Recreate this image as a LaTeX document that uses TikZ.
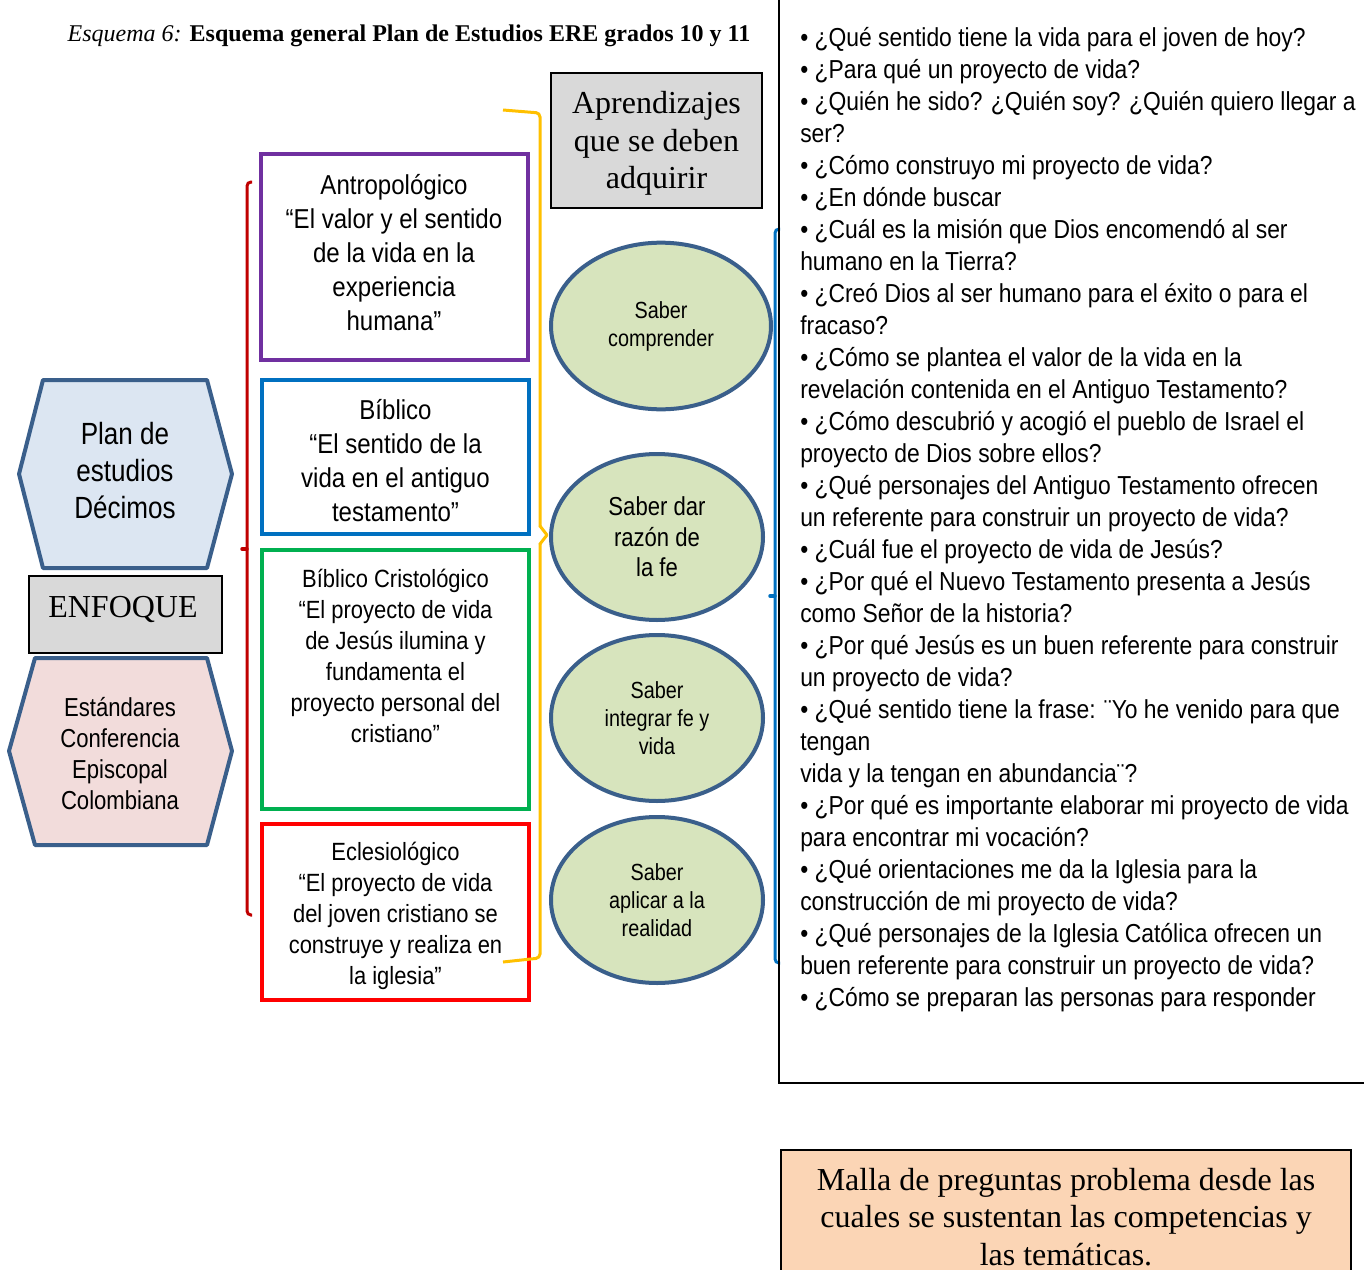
\documentclass[tikz,border=0pt]{standalone}
\usepackage{fontspec}
\setmainfont{Liberation Serif}
\newfontfamily\shapesf[FakeStretch=0.85]{Liberation Sans}
\newfontfamily\boxsf[FakeStretch=0.88]{Liberation Sans}
\usetikzlibrary{positioning, shapes.geometric, calc}

\definecolor{hexline}{HTML}{3A5F8B}
\definecolor{planfill}{HTML}{DCE6F2}
\definecolor{estfill}{HTML}{F2DCDB}
\definecolor{boxgray}{HTML}{D9D9D9}
\definecolor{saberfill}{HTML}{D7E4BD}
\definecolor{antrocol}{HTML}{7030A0}
\definecolor{biblcol}{HTML}{0070C0}
\definecolor{cristcol}{HTML}{00B050}
\definecolor{eclecol}{HTML}{FF0000}
\definecolor{bracered}{HTML}{C00000}
\definecolor{braceyel}{HTML}{FFC000}
\definecolor{mallafill}{HTML}{FBD5B5}

\begin{document}
\begin{tikzpicture}[
  x=0.75pt, y=-0.75pt,
  hexpath/.style={draw=hexline, line width=3pt, line join=round},
  hextxt/.style={font=\shapesf\fontsize{23}{27.75}\selectfont, align=center},
  esttxt/.style={font=\shapesf\fontsize{19.5}{23.25}\selectfont, align=center},
  topicbox/.style={draw, line width=3pt, minimum width=200pt, inner sep=0pt},
  topictxt/.style={font=\boxsf\fontsize{18.7}{23.25}\selectfont, align=center},
  saber/.style={ellipse, draw=hexline, fill=saberfill, line width=3pt,
                minimum width=159pt, minimum height=124.5pt, inner sep=0pt,
                align=center, font=\shapesf\fontsize{17.5}{21}\selectfont},
  graybox/.style={draw, fill=boxgray, line width=1.2pt, inner sep=0pt},
  serifbig/.style={font=\fontsize{24}{28}\selectfont, align=center},
  brace/.style={line width=2.25pt, rounded corners=3pt},
  bracetip/.style={line width=2.6pt, line join=round, line cap=round}
]
\useasboundingbox (0,0) rectangle (1364,1270);
\clip (0,0) rectangle (1364,1270);

% titulo
\node[anchor=west, font=\fontsize{18}{21}\selectfont] (titulo) at (63,36)
  {\textit{Esquema 6:} \textbf{Esquema general Plan de Estudios ERE grados 10 y 11}};

% columna izquierda
\draw[hexpath, fill=planfill] (43,380) -- (207,380) -- (232,474) -- (207,568)
  -- (43,568) -- (19,474) -- cycle;
\node[hextxt] (plan) at (125,471) {Plan de\\estudios\\Décimos};
\node[graybox, minimum width=144.75pt, minimum height=57.75pt] (enfbox) at (125.5,614.5) {};
\node[serifbig] (enfoque) at (123,609) {ENFOQUE};
\draw[hexpath, fill=estfill] (35,658) -- (207,658) -- (232,751) -- (207,845)
  -- (35,845) -- (9,751) -- cycle;
\node[esttxt] (estandares) at (120,754) {Estándares\\Conferencia\\Episcopal\\Colombiana};

% llave roja
\draw[brace, draw=bracered] (252,182) -- (247,182) -- (247,915) -- (252,915);
\draw[bracetip, draw=bracered] (247,549) -- (242,549);

% enfoques
\node[topicbox, draw=antrocol, minimum height=154.5pt] (antro) at (394.5,257) {};
\node[topictxt, font=\boxsf\fontsize{20.5}{25.5}\selectfont] (antrotxt) at (394,253)
  {Antropológico\\“El valor y el sentido\\de la vida en la\\experiencia\\humana”};
\node[topicbox, draw=biblcol, minimum height=115.5pt] (bibl) at (395.5,457) {};
\node[topictxt, font=\boxsf\fontsize{20.5}{25.5}\selectfont] (bibltxt) at (395.5,461)
  {Bíblico\\“El sentido de la\\vida en el antiguo\\testamento”};
\node[topicbox, draw=cristcol, minimum height=194.25pt] (crist) at (395.5,679.5) {};
\node[topictxt] (cristtxt) at (395.5,656)
  {Bíblico Cristológico\\“El proyecto de vida\\de Jesús ilumina y\\fundamenta el\\proyecto personal del\\cristiano”};
\node[topicbox, draw=eclecol, minimum height=132pt] (ecle) at (395.5,912) {};
\node[topictxt] (ecletxt) at (395.5,916)
  {Eclesiológico\\“El proyecto de vida\\del joven cristiano se\\construye y realiza en\\la iglesia”};

% llave amarilla
\draw[brace, draw=braceyel] (503,110) -- (540,113) -- (540,527);
\draw[brace, draw=braceyel] (540,543) -- (540,958) -- (503,962);
\draw[bracetip, line width=2.25pt, draw=braceyel] (540,526) -- (547,535) -- (540,544);

% aprendizajes
\node[graybox, minimum width=158.25pt, minimum height=101.25pt] (aprbox) at (656.5,140.5) {};
\node[serifbig] (aprend) at (656.5,143.5) {Aprendizajes\\que se deben\\adquirir};
\node[saber, minimum width=165pt, minimum height=125pt] (comprender) at (661,326) {Saber\\comprender};
\node[saber, font=\shapesf\fontsize{19.5}{23}\selectfont] (razon) at (657,537) {Saber dar\\razón de\\la fe};
\node[saber] (integrar) at (657,718) {Saber\\integrar fe y\\vida};
\node[saber] (aplicar) at (657,900) {Saber\\aplicar a la\\realidad};

% llave azul
\draw[brace, draw=biblcol] (780,229) -- (775,229) -- (775,963) -- (780,963);
\draw[bracetip, draw=biblcol] (775,596) -- (770,596);

% preguntas problema
\draw[line width=1pt] (779,-10) -- (779,1083) -- (1370,1083);
\node[anchor=north west, inner sep=0pt, align=left,
      font=\boxsf\fontsize{19.5}{24}\selectfont] (preguntas) at (800,27)
  {• ¿Qué sentido tiene la vida para el joven de hoy?\\
   • ¿Para qué un proyecto de vida?\\
   • ¿Quién he sido? ¿Quién soy? ¿Quién quiero llegar a\\
   ser?\\
   • ¿Cómo construyo mi proyecto de vida?\\
   • ¿En dónde buscar\\
   • ¿Cuál es la misión que Dios encomendó al ser\\
   humano en la Tierra?\\
   • ¿Creó Dios al ser humano para el éxito o para el\\
   fracaso?\\
   • ¿Cómo se plantea el valor de la vida en la\\
   revelación contenida en el Antiguo Testamento?\\
   • ¿Cómo descubrió y acogió el pueblo de Israel el\\
   proyecto de Dios sobre ellos?\\
   • ¿Qué personajes del Antiguo Testamento ofrecen\\
   un referente para construir un proyecto de vida?\\
   • ¿Cuál fue el proyecto de vida de Jesús?\\
   • ¿Por qué el Nuevo Testamento presenta a Jesús\\
   como Señor de la historia?\\
   • ¿Por qué Jesús es un buen referente para construir\\
   un proyecto de vida?\\
   • ¿Qué sentido tiene la frase: ¨Yo he venido para que\\
   tengan\\
   vida y la tengan en abundancia¨?\\
   • ¿Por qué es importante elaborar mi proyecto de vida\\
   para encontrar mi vocación?\\
   • ¿Qué orientaciones me da la Iglesia para la\\
   construcción de mi proyecto de vida?\\
   • ¿Qué personajes de la Iglesia Católica ofrecen un\\
   buen referente para construir un proyecto de vida?\\
   • ¿Cómo se preparan las personas para responder};

% malla
\draw[fill=mallafill, line width=1.2pt] (781,1150) rectangle (1351,1300);
\node[serifbig] (malla) at (1066,1217)
  {Malla de preguntas problema desde las\\cuales se sustentan las competencias y\\las temáticas.};
\end{tikzpicture}
\end{document}
